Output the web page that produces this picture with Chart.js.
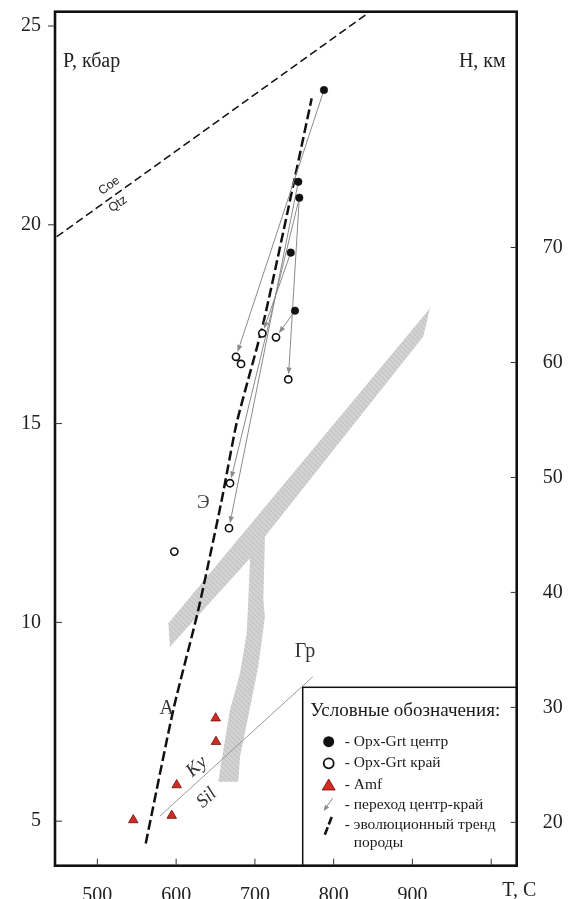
<!DOCTYPE html>
<html><head><meta charset="utf-8">
<script src="https://cdn.jsdelivr.net/npm/chart.js@4.4.1/dist/chart.umd.min.js"></script>
<style>html,body{margin:0;padding:0;background:#fff}#wrap{width:571px;height:899px;position:relative}</style>
</head><body><div id="wrap"><canvas id="c" width="571" height="899"></canvas></div>
<script>
// ---- axes ----
const xTicks = [500, 600, 700, 800, 900, 1000];
const yTicks = [5, 10, 15, 20, 25];
const hTicks = [20, 30, 40, 50, 60, 70];
const xLabelEnd = 'T, C';
const yTitle = 'P, кбар';
const hTitle = 'Н, км';

// ---- Opx-Grt centre (black dots) ----
const centerT = [787.7, 755.1, 756.4, 745.5, 750.9];
const centerP = [23.39, 21.08, 20.68, 19.30, 17.84];
// ---- Opx-Grt rim (open circles) ----
const rimT = [709.4, 726.8, 676.0, 682.4, 742.4, 668.4, 667.1, 597.7];
const rimP = [17.27, 17.17, 16.68, 16.50, 16.11, 13.50, 12.37, 11.78];
// ---- centre -> rim transitions (indices) ----
const arrowFrom = [0, 1, 2, 2, 3, 4];
const arrowTo   = [2, 6, 5, 4, 0, 1];
// ---- Amf (red triangles) ----
const amfT = [650.2, 650.6, 600.7, 594.4, 545.6];
const amfP = [7.59, 7.00, 5.91, 5.14, 5.03];
// ---- evolution trend ----
const trendT = [561.4, 596.4, 628.1, 657.9, 676.9, 710.7, 750.9, 772.1];
const trendP = [4.44, 7.80, 10.31, 13.08, 15.02, 17.53, 21.20, 23.18];
// ---- Coe / Qtz boundary ----
const coeT = [448.4, 846.1];
const coeP = [19.70, 25.36];
// ---- Ky / Sil boundary ----
const kySilT = [579.5, 773.4];
const kySilP = [5.13, 8.63];
// ---- grey facies band (Y shaped) ----
const bandT = [922.3, 590.1, 592.2, 693.8, 691.6, 689.6, 681.1, 668.4, 662.0, 653.5, 678.9, 681.1, 691.6, 704.3, 712.8, 710.7, 712.8, 913.8, 922.3];
const bandP = [17.90, 9.98, 9.39, 11.61, 10.56, 9.73, 8.72, 7.80, 7.04, 5.99, 5.99, 6.62, 7.63, 8.89, 10.14, 10.56, 12.16, 17.19, 17.90];
// ---- text labels on the field ----
const fieldLabels = [
  {text: 'Э',  T: 634.5, P: 13.00, font: '19px "Liberation Serif"', color: '#444'},
  {text: 'A',  T: 588.0, P: 7.84,  font: '20px "Liberation Serif"', color: '#333'},
  {text: 'Гр', T: 763.6, P: 9.26,  font: '20px "Liberation Serif"', color: '#333'}
];
const kyLabel = {text: 'Ky', T: 626.1, P: 6.37};
const silLabel = {text: 'Sil', T: 638.8, P: 5.58};
const coeLabel = {text: 'Coe', T: 515.0, P: 20.98};
const qtzLabel = {text: 'Qtz', T: 526.0, P: 20.52};
// ---- legend ----
const legendTitle = 'Условные обозначения:';
const legendItems = ['- Opx-Grt центр', '- Opx-Grt край', '- Amf', '- переход центр-край', '- эволюционный тренд'];
const legendExtra = 'породы';

const SERIF = '"Liberation Serif", "Times New Roman", serif';
const GREY = '#8a8a8a';

function pts(a, b) { return a.map((v, i) => ({x: v, y: b[i]})); }

function hatchPattern() {
  const c = document.createElement('canvas'); c.width = 5; c.height = 5;
  const g = c.getContext('2d');
  g.fillStyle = '#d2d2d2'; g.fillRect(0, 0, 5, 5);
  g.strokeStyle = '#b9b9b9'; g.lineWidth = 0.8;
  g.beginPath(); g.moveTo(-1, -1); g.lineTo(6, 6); g.stroke();
  return g.createPattern(c, 'repeat');
}

function drawArrow(ctx, x1, y1, x2, y2, gap, head, hw) {
  const a = Math.atan2(y2 - y1, x2 - x1);
  const tx = x2 - Math.cos(a) * gap, ty = y2 - Math.sin(a) * gap;
  const bx = tx - Math.cos(a) * head, by = ty - Math.sin(a) * head;
  ctx.beginPath(); ctx.moveTo(x1, y1); ctx.lineTo(bx, by); ctx.stroke();
  ctx.beginPath(); ctx.moveTo(tx, ty);
  ctx.lineTo(bx + Math.sin(a) * hw, by - Math.cos(a) * hw);
  ctx.lineTo(bx - Math.sin(a) * hw, by + Math.cos(a) * hw);
  ctx.closePath(); ctx.fill();
}

const arrowsPlugin = {
  id: 'arrows',
  afterDatasetDraw(chart, args) {
    if (args.index !== 3) return;
    const {ctx, scales: {x, y}} = chart;
    ctx.save();
    ctx.beginPath(); ctx.rect(chart.chartArea.left, chart.chartArea.top, chart.chartArea.width, chart.chartArea.height); ctx.clip();
    ctx.strokeStyle = GREY; ctx.fillStyle = GREY; ctx.lineWidth = 1;
    for (let i = 0; i < arrowFrom.length; i++) {
      const f = arrowFrom[i], t = arrowTo[i];
      drawArrow(ctx, x.getPixelForValue(centerT[f]), y.getPixelForValue(centerP[f]),
        x.getPixelForValue(rimT[t]), y.getPixelForValue(rimP[t]), 5, 7, 2.6);
    }
    ctx.restore();
  }
};

const decorPlugin = {
  id: 'decor',
  afterDatasetsDraw(chart) {
    const {ctx, scales: {x, y}} = chart;
    ctx.save();
    ctx.textAlign = 'center'; ctx.textBaseline = 'middle';
    fieldLabels.forEach(l => {
      ctx.font = l.font; ctx.fillStyle = l.color;
      ctx.fillText(l.text, x.getPixelForValue(l.T), y.getPixelForValue(l.P));
    });
    const kx1 = x.getPixelForValue(kySilT[0]), ky1 = y.getPixelForValue(kySilP[0]);
    const kx2 = x.getPixelForValue(kySilT[1]), ky2 = y.getPixelForValue(kySilP[1]);
    const ka = Math.atan2(ky2 - ky1, kx2 - kx1);
    ctx.fillStyle = '#333'; ctx.font = 'italic 19px ' + SERIF;
    [kyLabel, silLabel].forEach(l => {
      ctx.save();
      ctx.translate(x.getPixelForValue(l.T), y.getPixelForValue(l.P));
      ctx.rotate(ka); ctx.fillText(l.text, 0, 0); ctx.restore();
    });
    const cx1 = x.getPixelForValue(coeT[0]), cy1 = y.getPixelForValue(coeP[0]);
    const cx2 = x.getPixelForValue(coeT[1]), cy2 = y.getPixelForValue(coeP[1]);
    const ca2 = Math.atan2(cy2 - cy1, cx2 - cx1);
    ctx.fillStyle = '#222'; ctx.font = '12.5px "Liberation Sans", Arial, sans-serif';
    [coeLabel, qtzLabel].forEach(l => {
      ctx.save();
      ctx.translate(x.getPixelForValue(l.T), y.getPixelForValue(l.P));
      ctx.rotate(ca2); ctx.fillText(l.text, 0, 0); ctx.restore();
    });
    ctx.restore();
  },
  afterDraw(chart) {
    const {ctx, chartArea: ca, scales: {x, y, y2}} = chart;
    ctx.save();
    // legend box
    const lx = ca.left + 247.7, ly = ca.top + 675.6;
    ctx.fillStyle = '#fff'; ctx.fillRect(lx, ly, ca.right - lx, ca.bottom - ly);
    ctx.strokeStyle = '#111'; ctx.lineWidth = 1.5;
    ctx.strokeRect(lx, ly, ca.right - lx, ca.bottom - ly);
    ctx.fillStyle = '#1a1a1a'; ctx.textAlign = 'left'; ctx.textBaseline = 'middle';
    ctx.font = '19px ' + SERIF;
    ctx.fillText(legendTitle, lx + 7.5, ly + 24);
    ctx.font = '15.5px ' + SERIF;
    const iy = [ly + 54.4, ly + 76, ly + 97.7, ly + 117.7, ly + 137.7];
    const sx = lx + 26, tx = lx + 42;
    legendItems.forEach((t, i) => ctx.fillText(t, tx, iy[i]));
    ctx.fillText(legendExtra, tx + 9, iy[4] + 18.3);
    // symbols
    ctx.fillStyle = '#111'; ctx.beginPath(); ctx.arc(sx, iy[0], 5.5, 0, Math.PI * 2); ctx.fill();
    ctx.strokeStyle = '#111'; ctx.lineWidth = 1.8; ctx.beginPath(); ctx.arc(sx, iy[1], 5, 0, Math.PI * 2); ctx.stroke();
    ctx.fillStyle = '#d42a20'; ctx.strokeStyle = '#6a1010'; ctx.lineWidth = 0.8;
    ctx.beginPath(); ctx.moveTo(sx, iy[2] - 6); ctx.lineTo(sx + 6.5, iy[2] + 5); ctx.lineTo(sx - 6.5, iy[2] + 5); ctx.closePath(); ctx.fill(); ctx.stroke();
    ctx.strokeStyle = GREY; ctx.fillStyle = GREY; ctx.lineWidth = 1;
    drawArrow(ctx, sx + 4, iy[3] - 7, sx - 5, iy[3] + 6, 0, 6, 2.5);
    ctx.strokeStyle = '#111'; ctx.lineWidth = 2.6; ctx.setLineDash([8, 3]);
    ctx.beginPath(); ctx.moveTo(sx + 3, iy[4] - 8); ctx.lineTo(sx - 4, iy[4] + 10); ctx.stroke();
    ctx.setLineDash([]);
    // frame
    ctx.strokeStyle = '#111'; ctx.lineWidth = 2.6;
    ctx.strokeRect(ca.left, ca.top, ca.width, ca.height);
    // tick marks
    ctx.lineWidth = 1; ctx.strokeStyle = '#333';
    ctx.beginPath();
    xTicks.forEach(v => { const p = x.getPixelForValue(v); ctx.moveTo(p, ca.bottom); ctx.lineTo(p, ca.bottom - 7); });
    yTicks.forEach(v => { const p = y.getPixelForValue(v); const d = v >= 20 ? -7 : 7; ctx.moveTo(ca.left, p); ctx.lineTo(ca.left + d, p); });
    hTicks.forEach(v => { const p = y2.getPixelForValue(v); ctx.moveTo(ca.right, p); ctx.lineTo(ca.right - 6, p); });
    ctx.stroke();
    // axis titles
    ctx.fillStyle = '#222'; ctx.font = '20px ' + SERIF; ctx.textBaseline = 'alphabetic';
    ctx.textAlign = 'left'; ctx.fillText(yTitle, ca.left + 8, 66.5);
    ctx.textAlign = 'right'; ctx.fillText(hTitle, ca.right - 11, 66.5);
    ctx.textAlign = 'left'; ctx.fillText(xLabelEnd, x.getPixelForValue(1000) + 11, 896);
    ctx.restore();
  }
};

const tickFont = {family: SERIF, size: 20};
function noPadV(s, w) { s.width = w; s.paddingTop = 0; s.paddingBottom = 0; }

new Chart(document.getElementById('c'), {
  type: 'scatter',
  data: {
    datasets: [
      {label: 'Opx-Grt центр', data: pts(centerT, centerP), pointRadius: 3.8, pointBackgroundColor: '#111', pointBorderColor: '#111', pointBorderWidth: 0.5, showLine: false},
      {label: 'Opx-Grt край', data: pts(rimT, rimP), pointRadius: 3.6, pointBackgroundColor: '#fff', pointBorderColor: '#111', pointBorderWidth: 1.6, showLine: false},
      {label: 'Amf', data: pts(amfT, amfP), pointStyle: 'triangle', pointRadius: 5.5, pointBackgroundColor: '#d42a20', pointBorderColor: '#6a1010', pointBorderWidth: 0.8, showLine: false},
      {label: 'trend', data: pts(trendT, trendP), showLine: true, borderColor: '#111', borderWidth: 2.5, borderDash: [10, 4], pointRadius: 0, tension: 0.2, fill: false},
      {label: 'Coe-Qtz', data: pts(coeT, coeP), showLine: true, borderColor: '#111', borderWidth: 1.5, borderDash: [8, 4], pointRadius: 0, fill: false},
      {label: 'Ky-Sil', data: pts(kySilT, kySilP), showLine: true, borderColor: '#9a9a9a', borderWidth: 1, pointRadius: 0, fill: false},
      {label: 'band', data: pts(bandT, bandP), showLine: true, borderWidth: 0, borderColor: 'rgba(0,0,0,0)', backgroundColor: hatchPattern(), pointRadius: 0, fill: 'shape', tension: 0}
    ]
  },
  options: {
    responsive: false, animation: false, devicePixelRatio: 1,
    layout: {padding: {top: 11.7, left: 0, right: 0, bottom: 0}},
    plugins: {legend: {display: false}, tooltip: {enabled: false}},
    scales: {
      x: {
        type: 'linear', position: 'bottom', min: 446.2, max: 1032.4,
        afterBuildTicks: s => { s.ticks = xTicks.map(v => ({value: v})); },
        afterFit: s => { s.height = 33.3; s.paddingLeft = 0; s.paddingRight = 0; },
        ticks: {font: tickFont, color: '#222', padding: 10, maxRotation: 0, autoSkip: false,
          callback: v => (v === 1000 ? '' : String(v))},
        grid: {display: false}, border: {display: false}
      },
      y: {
        type: 'linear', position: 'left', min: 3.88, max: 25.36,
        afterBuildTicks: s => { s.ticks = yTicks.map(v => ({value: v})); },
        afterFit: s => noPadV(s, 55),
        ticks: {font: tickFont, color: '#222', padding: 6, autoSkip: false},
        grid: {display: false}, border: {display: false}
      },
      y2: {
        type: 'linear', position: 'right', min: 16.23, max: 90.51,
        afterBuildTicks: s => { s.ticks = hTicks.map(v => ({value: v})); },
        afterFit: s => noPadV(s, 54.3),
        ticks: {font: tickFont, color: '#222', padding: 18, autoSkip: false},
        grid: {display: false}, border: {display: false}
      }
    }
  },
  plugins: [arrowsPlugin, decorPlugin]
});
</script>
</body></html>
